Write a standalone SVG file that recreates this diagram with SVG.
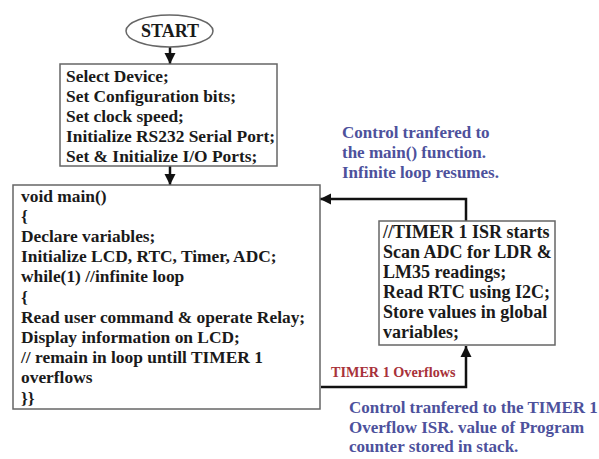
<svg xmlns="http://www.w3.org/2000/svg" width="599" height="459" viewBox="0 0 599 459">
<defs>
<style>
.box{fill:#fff;stroke:#666;stroke-width:1.5}
.t{font-family:"Liberation Serif","Times New Roman",serif;font-weight:bold;fill:#1a1a1a}
.m{font-size:17.4px}
.i{font-size:18px}
.blue{font-family:"Liberation Serif","Times New Roman",serif;font-weight:bold;font-size:17px;fill:#4d519c}
.red{font-family:"Liberation Serif","Times New Roman",serif;font-weight:bold;font-size:14.2px;fill:#a8323a}
.c{fill:none;stroke:#111;stroke-width:2.5}
</style>
<marker id="ah" markerUnits="userSpaceOnUse" markerWidth="12" markerHeight="12" viewBox="0 0 12 12" refX="11" refY="6" orient="auto">
<path d="M0,0.5 L11,6 L0,11.5 Z" fill="#111"/>
</marker>
</defs>
<rect width="599" height="459" fill="#fff"/>

<g id="connectors">
<line class="c" x1="170" y1="47" x2="170" y2="64" marker-end="url(#ah)"/>
<line class="c" x1="170" y1="166" x2="170" y2="185" marker-end="url(#ah)"/>
<polyline class="c" points="466,221 466,199 320,199" marker-end="url(#ah)"/>
<polyline class="c" points="321,387 466,387 466,346" marker-end="url(#ah)"/>
</g>

<g id="start">
<ellipse class="box" cx="169.5" cy="31" rx="43.5" ry="16"/>
<text class="t" x="170" y="37" font-size="18" text-anchor="middle">START</text>
</g>

<g id="setup">
<rect class="box" x="60" y="64" width="217" height="102"/>
<text class="t m" x="66" y="81.5">Select Device;</text>
<text class="t m" x="66" y="101.5">Set Configuration bits;</text>
<text class="t m" x="66" y="121.5">Set clock speed;</text>
<text class="t m" x="66" y="141.5">Initialize RS232 Serial Port;</text>
<text class="t m" x="66" y="161.5">Set &amp; Initialize I/O Ports;</text>
</g>

<g id="main">
<rect class="box" x="13" y="185" width="307" height="224"/>
<text class="t m" x="21" y="201.5">void main()</text>
<text class="t m" x="21" y="221.7">{</text>
<text class="t m" x="21" y="241.9">Declare variables;</text>
<text class="t m" x="21" y="262.1">Initialize LCD, RTC, Timer, ADC;</text>
<text class="t m" x="21" y="282.3">while(1) //infinite loop</text>
<text class="t m" x="21" y="302.5">{</text>
<text class="t m" x="21" y="322.7">Read user command &amp; operate Relay;</text>
<text class="t m" x="21" y="342.9">Display information on LCD;</text>
<text class="t m" x="21" y="363.1">// remain in loop untill TIMER 1</text>
<text class="t m" x="21" y="383.3">overflows</text>
<text class="t m" x="21" y="403.5">}}</text>
</g>

<g id="isr">
<rect class="box" x="379" y="221" width="176" height="124"/>
<text class="t i" x="383" y="238">//TIMER 1 ISR starts</text>
<text class="t i" x="383" y="258">Scan ADC for LDR &amp;</text>
<text class="t i" x="383" y="278">LM35 readings;</text>
<text class="t i" x="383" y="298">Read RTC using I2C;</text>
<text class="t i" x="383" y="318">Store values in global</text>
<text class="t i" x="383" y="338">variables;</text>
</g>

<g id="note-return">
<text class="blue" x="342" y="138">Control tranfered to</text>
<text class="blue" x="342" y="158">the main() function.</text>
<text class="blue" x="342" y="178">Infinite loop resumes.</text>
</g>

<g id="label-overflow">
<text class="red" x="331" y="377">TIMER 1 Overflows</text>
</g>

<g id="note-isr">
<text class="blue" x="349" y="413">Control tranfered to the TIMER 1</text>
<text class="blue" x="349" y="432.5">Overflow ISR. value of Program</text>
<text class="blue" x="349" y="452">counter stored in stack.</text>
</g>
</svg>
